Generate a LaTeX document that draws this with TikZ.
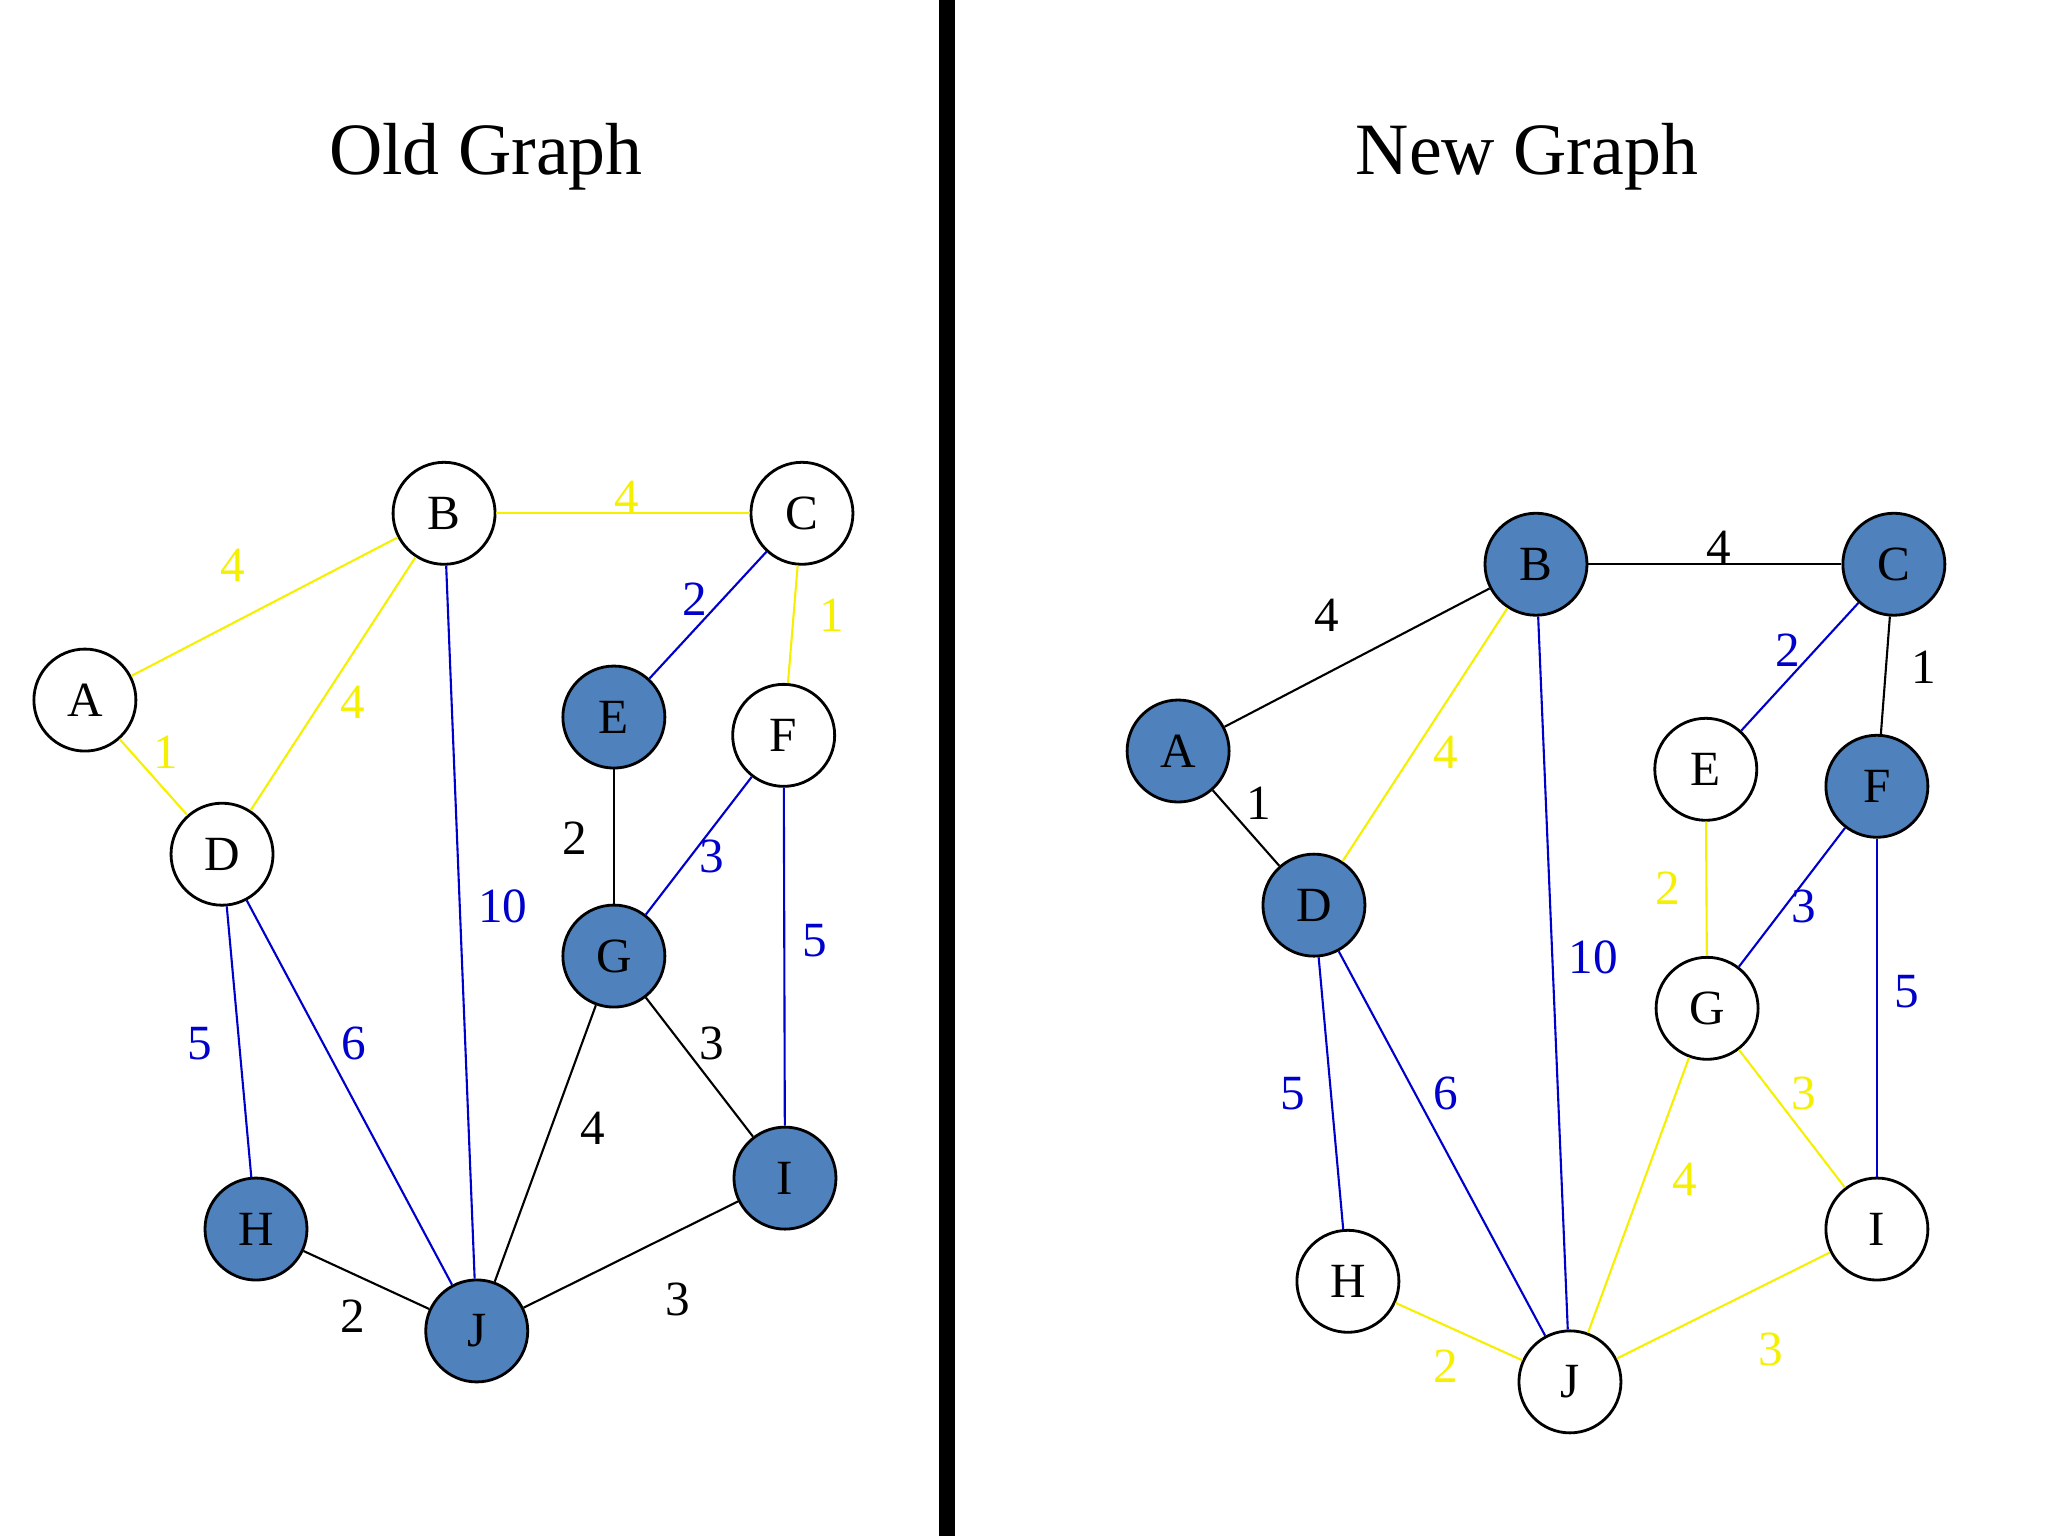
\documentclass[tikz,border=0pt]{standalone}
\usepackage{fontspec}
\setmainfont{Liberation Serif}
\begin{document}
\begin{tikzpicture}[x=0.01306cm,y=-0.01306cm,
 v/.style={circle,draw=black,thick,minimum size=1.02cm,inner sep=0pt,font=\fontsize{14}{16}\selectfont},
 w/.style={v,fill=white},
 f/.style={v,fill=blueF},
 lb/.style={font=\fontsize{14}{16}\selectfont,inner sep=0pt},
 ttl/.style={font=\fontsize{21}{25}\selectfont},
 Y/.style={draw=yellowE,semithick},
 U/.style={draw=blueE,semithick},
 K/.style={draw=black,semithick}]
\definecolor{blueF}{HTML}{4F81BD}
\definecolor{yellowE}{HTML}{F5F000}
\definecolor{blueE}{HTML}{0000CC}
\useasboundingbox (0,0) rectangle (1568,1176);
\fill[black] (719,0) rectangle (731,1176);
\node[ttl] (t1) at (372,120) {Old Graph};
\node[ttl] (t2) at (1169,120) {New Graph};
% Old graph
\node[w] (A) at (65,536) {A};
\node[w] (B) at (340,393) {B};
\node[w] (C) at (614,393) {C};
\node[w] (D) at (170,654) {D};
\node[f] (E) at (470,549) {E};
\node[w] (F) at (600,563) {F};
\node[f] (G) at (470,732) {G};
\node[f] (H) at (196,941) {H};
\node[f] (I) at (601,902) {I};
\node[f] (J) at (365,1019) {J};
\draw[Y] (A)--(B); \node[lb,yellowE] (l1) at (178,433) {4};
\draw[Y] (A)--(D); \node[lb,yellowE] (l2) at (127,576) {1};
\draw[Y] (B)--(C); \node[lb,yellowE] (l3) at (480,381) {4};
\draw[Y] (B)--(D); \node[lb,yellowE] (l4) at (270,538) {4};
\draw[U] (B)--(J); \node[lb,blueE] (l5) at (385,694) {10};
\draw[U] (C)--(E); \node[lb,blueE] (l6) at (532,459) {2};
\draw[Y] (C)--(F); \node[lb,yellowE] (l7) at (637,471) {1};
\draw[K] (E)--(G); \node[lb] (l8) at (440,642) {2};
\draw[U] (F)--(G); \node[lb,blueE] (l9) at (545,656) {3};
\draw[U] (F)--(I); \node[lb,blueE] (l10) at (624,720) {5};
\draw[K] (G)--(I); \node[lb] (l11) at (545,799) {3};
\draw[K] (G)--(J); \node[lb] (l12) at (454,864) {4};
\draw[U] (D)--(H); \node[lb,blueE] (l13) at (153,799) {5};
\draw[U] (D)--(J); \node[lb,blueE] (l14) at (271,799) {6};
\draw[K] (H)--(J); \node[lb] (l15) at (270,1008) {2};
\draw[K] (J)--(I); \node[lb] (l16) at (519,995) {3};
% New graph
\node[f] (nA) at (902,575) {A};
\node[f] (nB) at (1176,432) {B};
\node[f] (nC) at (1450,432) {C};
\node[f] (nD) at (1006,693) {D};
\node[w] (nE) at (1306,589) {E};
\node[f] (nF) at (1437,602) {F};
\node[w] (nG) at (1307,772) {G};
\node[w] (nH) at (1032,981) {H};
\node[w] (nI) at (1437,941) {I};
\node[w] (nJ) at (1202,1058) {J};
\draw[K] (nA)--(nB); \node[lb] (m1) at (1016,471) {4};
\draw[K] (nA)--(nD); \node[lb] (m2) at (964,615) {1};
\draw[K] (nB)--(nC); \node[lb] (m3) at (1316,419) {4};
\draw[Y] (nB)--(nD); \node[lb,yellowE] (m4) at (1107,576) {4};
\draw[U] (nB)--(nJ); \node[lb,blueE] (m5) at (1220,733) {10};
\draw[U] (nC)--(nE); \node[lb,blueE] (m6) at (1369,498) {2};
\draw[K] (nC)--(nF); \node[lb] (m7) at (1473,511) {1};
\draw[Y] (nE)--(nG); \node[lb,yellowE] (m8) at (1277,680) {2};
\draw[U] (nF)--(nG); \node[lb,blueE] (m9) at (1381,694) {3};
\draw[U] (nF)--(nI); \node[lb,blueE] (m10) at (1460,759) {5};
\draw[Y] (nG)--(nI); \node[lb,yellowE] (m11) at (1381,837) {3};
\draw[Y] (nG)--(nJ); \node[lb,yellowE] (m12) at (1290,903) {4};
\draw[U] (nD)--(nH); \node[lb,blueE] (m13) at (990,837) {5};
\draw[U] (nD)--(nJ); \node[lb,blueE] (m14) at (1107,837) {6};
\draw[Y] (nH)--(nJ); \node[lb,yellowE] (m15) at (1107,1046) {2};
\draw[Y] (nJ)--(nI); \node[lb,yellowE] (m16) at (1356,1033) {3};
\end{tikzpicture}
\end{document}
